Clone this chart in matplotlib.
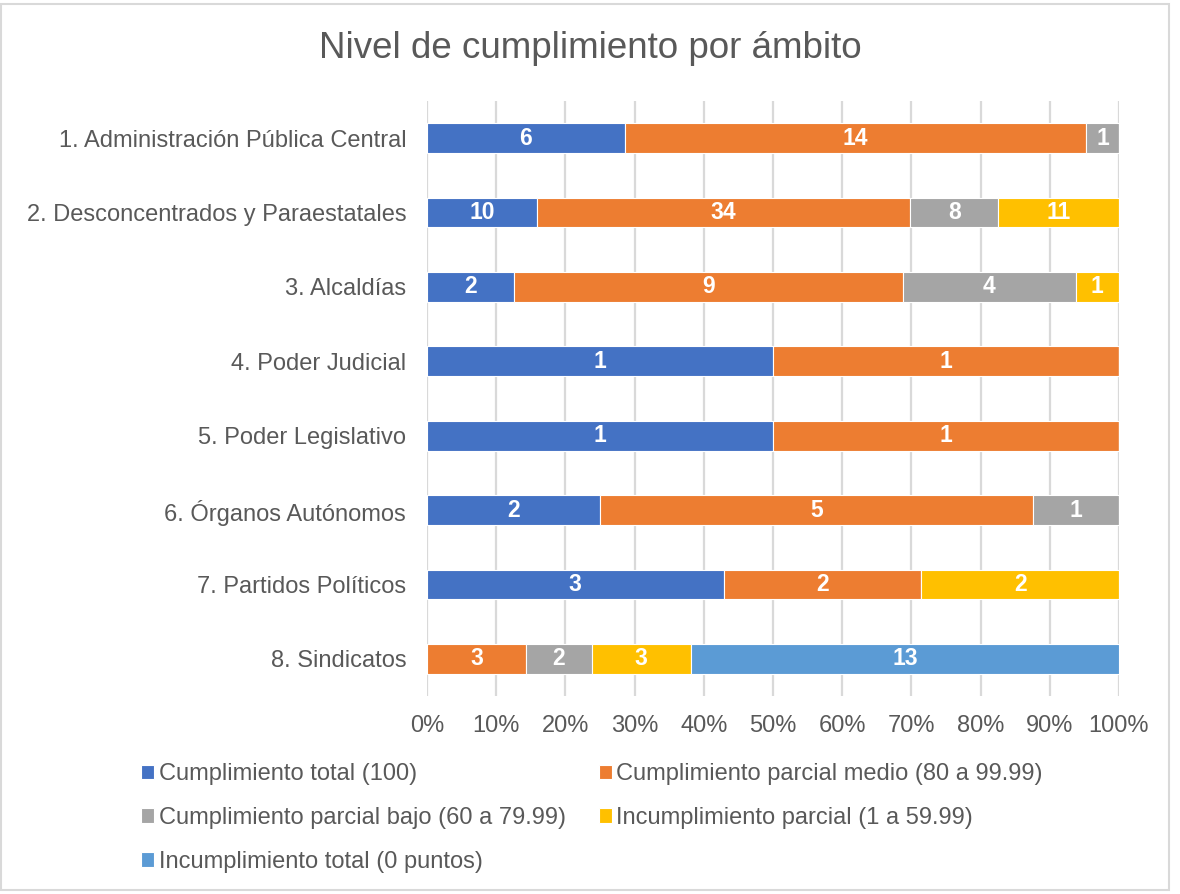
import matplotlib.pyplot as plt
import numpy as np
from matplotlib.patches import Rectangle

plt.rcParams['font.family'] = ['Liberation Sans', 'DejaVu Sans']

categories = [
    "1. Administración Pública Central",
    "2. Desconcentrados y Paraestatales",
    "3. Alcaldías",
    "4. Poder Judicial",
    "5. Poder Legislativo",
    "6. Órganos Autónomos",
    "7. Partidos Políticos",
    "8. Sindicatos",
]
series_names = [
    "Cumplimiento total (100)",
    "Cumplimiento parcial medio (80 a 99.99)",
    "Cumplimiento parcial bajo (60 a 79.99)",
    "Incumplimiento parcial (1 a 59.99)",
    "Incumplimiento total (0 puntos)",
]
total = [6, 10, 2, 1, 1, 2, 3, 0]
parcial_medio = [14, 34, 9, 1, 1, 5, 2, 3]
parcial_bajo = [1, 8, 4, 0, 0, 1, 0, 2]
incumpl_parcial = [0, 11, 1, 0, 0, 0, 2, 3]
incumpl_total = [0, 0, 0, 0, 0, 0, 0, 13]
colors = ["#4472C4", "#ED7D31", "#A5A5A5", "#FFC000", "#5B9BD5"]

data = np.array([total, parcial_medio, parcial_bajo, incumpl_parcial, incumpl_total], dtype=float)
shares = data / data.sum(axis=0)

fig = plt.figure(figsize=(11.8, 8.94), dpi=100)
ax = fig.add_axes([0.3619, 0.2215, 0.5864, 0.6655])

y = np.arange(len(categories))
left = np.zeros(len(categories))
handles = []
for i, name in enumerate(series_names):
    bars = ax.barh(y, shares[i], left=left, height=0.4, color=colors[i],
                   edgecolor="white", linewidth=0.8, label=name, zorder=3)
    handles.append(bars)
    for j in range(len(categories)):
        if data[i, j] > 0:
            ax.text(left[j] + shares[i, j] / 2, y[j], f"{int(data[i, j])}",
                    ha="center", va="center", color="white",
                    fontsize=16.5, fontweight="bold", zorder=4)
    left += shares[i]

ax.set_xlim(0, 1)
ax.set_ylim(len(categories) - 0.5, -0.5)
ax.set_xticks(np.arange(0, 1.01, 0.1))
ax.set_xticklabels([f"{int(round(v * 100))}%" for v in np.arange(0, 1.01, 0.1)])
ax.set_yticks(y)
ax.set_yticklabels(categories)
ax.tick_params(axis="both", length=0, labelsize=17, colors="#595959")
ax.tick_params(axis="x", pad=14)
ax.tick_params(axis="y", pad=15)
ax.grid(axis="x", color="#D9D9D9", linewidth=1.6, zorder=0)
for s in ax.spines.values():
    s.set_visible(False)

fig.text(0.5, 1 - 48 / 894, "Nivel de cumplimiento por ámbito", ha="center", va="center",
         fontsize=26.5, color="#595959")

order = [0, 2, 4, 1, 3]
fig.legend([handles[k] for k in order], [series_names[k] for k in order],
           loc="upper left", bbox_to_anchor=(141 / 1180, 1 - 763 / 894), ncol=2,
           frameon=False, fontsize=17, labelcolor="#595959",
           handlelength=0.55, handleheight=0.55, handletextpad=0.2,
           columnspacing=1.4, labelspacing=0.93, borderaxespad=0, borderpad=0)

fig.add_artist(Rectangle((1 / 1180, 4 / 894), 1168 / 1180, 886 / 894,
                         transform=fig.transFigure, fill=False,
                         edgecolor="#D9D9D9", linewidth=1.5))

fig.savefig("out.png", dpi=100)
